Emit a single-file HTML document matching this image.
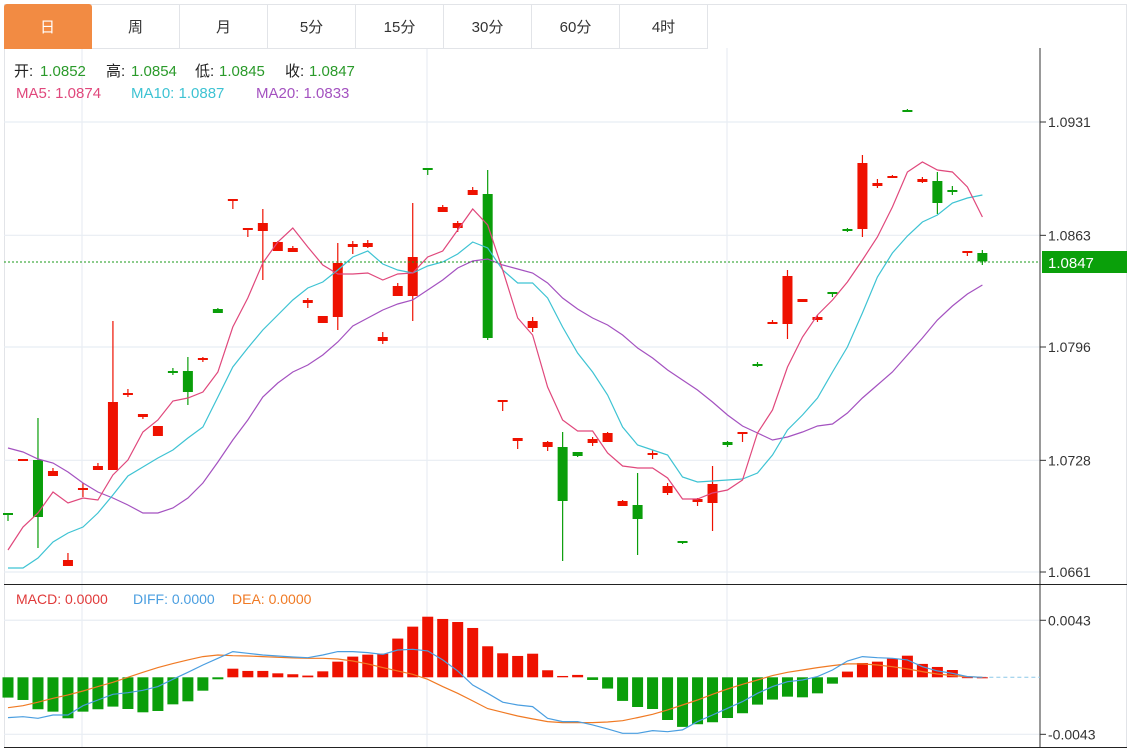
<!DOCTYPE html>
<html><head><meta charset="utf-8">
<style>
body{margin:0;background:#fff;width:1142px;height:750px;overflow:hidden;font-family:"Liberation Sans","Noto Sans CJK SC",sans-serif;}
#tabs{position:absolute;left:4px;top:4px;height:44px;display:flex;}
.tab{width:87px;height:43px;border-right:1px solid #e2e4e8;border-top:1px solid #e2e4e8;border-bottom:1px solid #e2e4e8;display:flex;align-items:center;justify-content:center;font-size:15px;color:#333;}
.tab.active{background:#f28b43;color:#fff;border-radius:3px 3px 0 0;border-color:#f28b43;}
svg{position:absolute;left:0;top:0;}
</style></head><body>
<svg id="chart" width="1142" height="750"></svg>
<div id="tabs">
<div class="tab active">日</div>
<div class="tab">周</div>
<div class="tab">月</div>
<div class="tab">5分</div>
<div class="tab">15分</div>
<div class="tab">30分</div>
<div class="tab">60分</div>
<div class="tab">4时</div>
</div>
<script>
const opens=[1.06964,1.07282,1.07282,1.07186,1.06646,1.07102,1.07222,1.07222,1.07672,1.07540,1.07426,1.07816,1.07816,1.07888,1.08188,1.08842,1.08662,1.08656,1.08536,1.08530,1.08224,1.08104,1.08140,1.08560,1.08560,1.07996,1.08266,1.08266,1.09034,1.08770,1.08674,1.08872,1.08878,1.07636,1.07396,1.08074,1.07360,1.07360,1.07330,1.07384,1.07390,1.07006,1.07012,1.07312,1.07084,1.06796,1.07030,1.07024,1.07390,1.07444,1.07858,1.08098,1.08098,1.08230,1.08122,1.08290,1.08668,1.08668,1.08926,1.08974,1.09382,1.08950,1.08956,1.08902,1.08524,1.08524];
const closes=[1.06958,1.07288,1.06940,1.07216,1.06682,1.07114,1.07246,1.07630,1.07684,1.07558,1.07486,1.07810,1.07690,1.07894,1.08164,1.08848,1.08674,1.08704,1.08590,1.08554,1.08242,1.08146,1.08464,1.08578,1.08584,1.08020,1.08326,1.08500,1.09022,1.08800,1.08704,1.08902,1.08014,1.07642,1.07414,1.08116,1.07390,1.07036,1.07306,1.07408,1.07444,1.07036,1.06928,1.07324,1.07126,1.06790,1.07048,1.07138,1.07372,1.07450,1.07852,1.08110,1.08386,1.08248,1.08140,1.08284,1.08656,1.09064,1.08944,1.08986,1.09376,1.08968,1.08824,1.08896,1.08536,1.08474];
const highs=[1.06964,1.07288,1.07534,1.07234,1.06724,1.07144,1.07264,1.08116,1.07708,1.07558,1.07486,1.07834,1.07900,1.07900,1.08194,1.08848,1.08674,1.08788,1.08596,1.08566,1.08254,1.08146,1.08584,1.08596,1.08602,1.08050,1.08344,1.08824,1.09034,1.08812,1.08716,1.08920,1.09022,1.07642,1.07414,1.08140,1.07396,1.07450,1.07330,1.07420,1.07450,1.07042,1.07204,1.07342,1.07144,1.06796,1.07054,1.07246,1.07396,1.07450,1.07870,1.08122,1.08422,1.08248,1.08152,1.08290,1.08674,1.09112,1.08968,1.08992,1.09388,1.08980,1.09010,1.08926,1.08536,1.08542];
const lows=[1.06916,1.07282,1.06754,1.07186,1.06646,1.07060,1.07222,1.07222,1.07660,1.07528,1.07426,1.07792,1.07612,1.07870,1.08164,1.08788,1.08620,1.08362,1.08536,1.08530,1.08194,1.08104,1.08062,1.08518,1.08554,1.07978,1.08266,1.08116,1.08992,1.08770,1.08650,1.08872,1.08002,1.07576,1.07348,1.08050,1.07336,1.06676,1.07300,1.07366,1.07390,1.07006,1.06712,1.07288,1.07072,1.06778,1.07006,1.06856,1.07360,1.07390,1.07840,1.08098,1.08008,1.08230,1.08110,1.08260,1.08650,1.08620,1.08914,1.08974,1.09376,1.08944,1.08758,1.08872,1.08506,1.08452];
const ma5=[1.06742,1.06880,1.06964,1.07090,1.07024,1.07054,1.07042,1.07192,1.07282,1.07450,1.07522,1.07636,1.07654,1.07690,1.07810,1.08080,1.08254,1.08464,1.08590,1.08674,1.08560,1.08452,1.08398,1.08398,1.08404,1.08362,1.08398,1.08404,1.08500,1.08536,1.08662,1.08788,1.08692,1.08422,1.08134,1.08032,1.07720,1.07522,1.07456,1.07456,1.07324,1.07246,1.07234,1.07234,1.07174,1.07048,1.07048,1.07084,1.07102,1.07162,1.07444,1.07582,1.07840,1.08020,1.08152,1.08242,1.08350,1.08482,1.08620,1.08800,1.09010,1.09070,1.09022,1.09010,1.08920,1.08740];
const ma10=[1.06634,1.06634,1.06694,1.06790,1.06844,1.06880,1.06964,1.07072,1.07186,1.07240,1.07294,1.07342,1.07414,1.07480,1.07660,1.07840,1.07954,1.08062,1.08152,1.08242,1.08314,1.08350,1.08422,1.08500,1.08536,1.08458,1.08422,1.08404,1.08446,1.08470,1.08518,1.08590,1.08554,1.08422,1.08344,1.08344,1.08254,1.08080,1.07924,1.07810,1.07672,1.07480,1.07372,1.07342,1.07312,1.07180,1.07150,1.07156,1.07162,1.07168,1.07204,1.07312,1.07462,1.07552,1.07654,1.07810,1.07960,1.08164,1.08380,1.08524,1.08626,1.08710,1.08752,1.08824,1.08854,1.08872];
const ma20=[1.07354,1.07330,1.07288,1.07264,1.07210,1.07144,1.07090,1.07054,1.07012,1.06964,1.06964,1.06994,1.07054,1.07144,1.07270,1.07402,1.07522,1.07660,1.07744,1.07810,1.07852,1.07912,1.07990,1.08086,1.08134,1.08182,1.08218,1.08242,1.08302,1.08362,1.08434,1.08476,1.08488,1.08452,1.08428,1.08404,1.08344,1.08254,1.08188,1.08134,1.08092,1.08032,1.07954,1.07894,1.07822,1.07762,1.07702,1.07630,1.07552,1.07486,1.07444,1.07402,1.07420,1.07450,1.07486,1.07498,1.07564,1.07654,1.07732,1.07810,1.07912,1.08014,1.08122,1.08206,1.08278,1.08332];
const macdHist=[-0.00153,-0.00171,-0.00241,-0.00259,-0.00309,-0.00259,-0.00241,-0.00221,-0.00239,-0.00264,-0.00254,-0.00204,-0.00181,-0.00101,-0.00015,0.00065,0.00048,0.00048,0.00030,0.00023,0.00013,0.00045,0.00118,0.00156,0.00171,0.00178,0.00292,0.00382,0.00457,0.00440,0.00417,0.00372,0.00234,0.00181,0.00161,0.00178,0.00053,0.00010,0.00018,-0.00020,-0.00085,-0.00178,-0.00224,-0.00239,-0.00322,-0.00374,-0.00354,-0.00339,-0.00307,-0.00271,-0.00206,-0.00168,-0.00146,-0.00151,-0.00121,-0.00048,0.00043,0.00108,0.00118,0.00141,0.00163,0.00101,0.00078,0.00055,0.00001,0.00000];
const diff=[-0.00304,-0.00297,-0.00309,-0.00284,-0.00284,-0.00214,-0.00171,-0.00128,-0.00116,-0.00098,-0.00070,-0.00015,0.00038,0.00093,0.00143,0.00194,0.00181,0.00168,0.00161,0.00153,0.00148,0.00168,0.00194,0.00194,0.00186,0.00173,0.00206,0.00211,0.00199,0.00131,0.00048,-0.00058,-0.00121,-0.00188,-0.00209,-0.00221,-0.00309,-0.00334,-0.00334,-0.00359,-0.00389,-0.00422,-0.00422,-0.00402,-0.00410,-0.00397,-0.00334,-0.00284,-0.00234,-0.00183,-0.00121,-0.00070,-0.00033,-0.00020,0.00005,0.00055,0.00123,0.00156,0.00148,0.00143,0.00131,0.00080,0.00048,0.00030,0.00005,0.00000];
const dea=[-0.00229,-0.00214,-0.00188,-0.00158,-0.00133,-0.00103,-0.00070,-0.00038,0.00000,0.00038,0.00073,0.00103,0.00131,0.00156,0.00168,0.00163,0.00161,0.00156,0.00151,0.00146,0.00143,0.00143,0.00138,0.00123,0.00101,0.00073,0.00048,0.00023,-0.00015,-0.00070,-0.00121,-0.00178,-0.00236,-0.00264,-0.00292,-0.00314,-0.00334,-0.00342,-0.00342,-0.00342,-0.00337,-0.00327,-0.00304,-0.00279,-0.00246,-0.00209,-0.00171,-0.00128,-0.00088,-0.00053,-0.00020,0.00013,0.00038,0.00055,0.00073,0.00088,0.00101,0.00101,0.00093,0.00080,0.00063,0.00043,0.00025,0.00013,0.00005,0.00000];
const priceTicks=[1.0931,1.0863,1.0796,1.0728,1.0661];
const macdTicks=[0.0043,-0.0043];
const lastPrice=1.0847;

const NS='http://www.w3.org/2000/svg';
const svg=document.getElementById('chart');
function mk(tag,attrs,parent){const e=document.createElementNS(NS,tag);for(const k in attrs)e.setAttribute(k,attrs[k]);(parent||svg).appendChild(e);return e;}
const xOf=i=>8+i*14.99;
const yP=p=>122+(1.0931-p)*16666.7;
const yM=v=>677.3-v*13260;

let e;
e=mk('rect',{x:4.5,y:4.5,width:1122,height:743,fill:'none',stroke:'#e2e4e8'});


[82,427,727].forEach(x=>{
  e=mk('line',{x1:x,x2:x,y1:48,y2:747,stroke:'#e8edf3','stroke-width':1.2});
  
  
});
priceTicks.forEach(t=>{
  const y=yP(t);
  e=mk('line',{x1:4,x2:1040,y1:y,y2:y,stroke:'#e8edf3','stroke-width':1.2});
  
  
  e=mk('line',{x1:1040,x2:1046,y1:y,y2:y,stroke:'#333'});
  
  
  e=mk('text',{x:1048,y:y+5,'font-size':14,fill:'#333'});e.textContent=t.toFixed(4);
  
  
});
macdTicks.forEach(t=>{
  const y=yM(t);
  e=mk('line',{x1:4,x2:1040,y1:y,y2:y,stroke:'#e8edf3','stroke-width':1.2});
  
  
  e=mk('line',{x1:1040,x2:1046,y1:y,y2:y,stroke:'#333'});
  
  
  e=mk('text',{x:1048,y:y+5,'font-size':14,fill:'#333'});e.textContent=t.toFixed(4);
  
  
});
e=mk('line',{x1:1040,x2:1040,y1:48,y2:748,stroke:'#333'});


e=mk('line',{x1:4,x2:1127,y1:584.5,y2:584.5,stroke:'#222'});


e=mk('line',{x1:4,x2:1127,y1:747.5,y2:747.5,stroke:'#222'});



const W=10;
for(let i=0;i<opens.length;i++){
  const up=closes[i]>=opens[i];
  const col=up?'#ee1100':'#0a9e0a';
  const x=xOf(i);
  const g=mk('g',{});
  
  
  mk('line',{x1:x,x2:x,y1:yP(highs[i]),y2:yP(lows[i]),stroke:col,'stroke-width':1.2},g);
  const yt=Math.min(yP(opens[i]),yP(closes[i]));
  const h=Math.max(2,Math.abs(yP(opens[i])-yP(closes[i])));
  mk('rect',{x:x-W/2,y:yt,width:W,height:h,fill:col},g);
}
function poly(arr,yf,col,name,w){
  const pts=arr.map((v,i)=>xOf(i).toFixed(1)+','+yf(v).toFixed(1)).join(' ');
  const p=mk('polyline',{points:pts,fill:'none',stroke:col,'stroke-width':w||1.2});
  
  
}
poly(ma20,yP,'#a452c0','ma20-line');
poly(ma10,yP,'#3ec3d3','ma10-line');
poly(ma5,yP,'#e0487c','ma5-line');

const ly=yP(lastPrice);
e=mk('line',{x1:4,x2:1040,y1:ly,y2:ly,stroke:'#1a9a1a','stroke-dasharray':'2,2'});


e=mk('rect',{x:1042,y:ly-11,width:85,height:22,fill:'#0aa00a'});


e=mk('text',{x:1048,y:ly+6,'font-size':15,fill:'#fff'});e.textContent=lastPrice.toFixed(4);



const z=yM(0);
e=mk('line',{x1:xOf(opens.length-1),x2:1040,y1:z,y2:z,stroke:'#8cc8e8','stroke-dasharray':'4,3'});


macdHist.forEach((v,i)=>{
  const y=yM(v);
  const r=mk('rect',{x:xOf(i)-5.5,y:Math.min(y,z),width:11,height:Math.max(1,Math.abs(y-z)),fill:v>=0?'#ee1100':'#0a9e0a'});
  
  
});
poly(dea,yM,'#f07a24','dea-line');
poly(diff,yM,'#4a9ee0','diff-line');

function txt(x,y,s,col,name,size){
  const t=mk('text',{x:x,y:y,'font-size':size||15,fill:col});t.textContent=s;
  
  
  return t;
}
txt(14,76,'开:','#222','open-label');txt(40,76,opens[opens.length-1].toFixed(4),'#2a9a2a','open-value');
txt(106,76,'高:','#222','high-label');txt(131,76,highs[highs.length-1].toFixed(4),'#2a9a2a','high-value');
txt(195,76,'低:','#222','low-label');txt(219,76,lows[lows.length-1].toFixed(4),'#2a9a2a','low-value');
txt(285,76,'收:','#222','close-label');txt(309,76,closes[closes.length-1].toFixed(4),'#2a9a2a','close-value');
txt(16,98,'MA5: '+ma5[ma5.length-1].toFixed(4),'#e0487c','ma5-legend');
txt(131,98,'MA10: '+ma10[ma10.length-1].toFixed(4),'#3ec3d3','ma10-legend');
txt(256,98,'MA20: '+ma20[ma20.length-1].toFixed(4),'#a452c0','ma20-legend');
txt(16,604,'MACD: 0.0000','#e03a3a','macd-legend',14);
txt(133,604,'DIFF: 0.0000','#4a9ee0','diff-legend',14);
txt(232,604,'DEA: 0.0000','#f07a24','dea-legend',14);
</script>
</body></html>
